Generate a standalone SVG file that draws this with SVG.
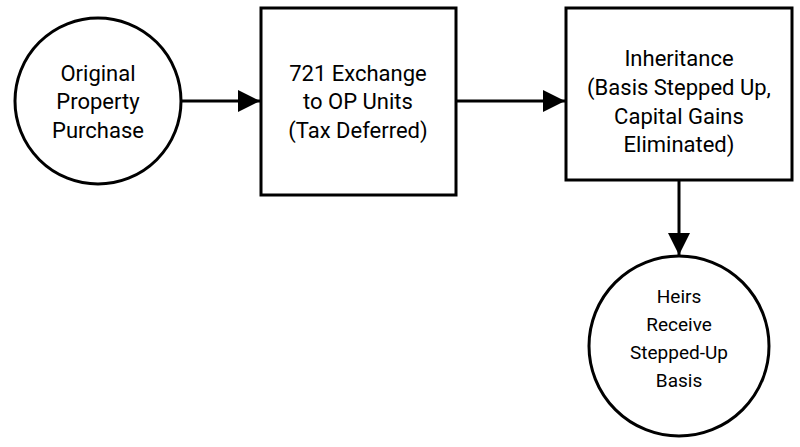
<svg xmlns="http://www.w3.org/2000/svg" width="800" height="447" viewBox="0 0 800 447">
<style>
.n{fill:#fff;stroke:#000;stroke-width:3}
.t{font-family:Roboto,"Liberation Sans",sans-serif;font-size:22px;text-anchor:middle;fill:#000}
.s{font-size:19px}
.c{stroke:#000;stroke-width:3;fill:none}
</style>
<defs>
<marker id="h" viewBox="0 0 10 10" refX="10" refY="5" markerWidth="22" markerHeight="22" markerUnits="userSpaceOnUse" orient="auto"><path d="M0,0L10,5L0,10z" fill="#000"/></marker></defs>
<rect width="800" height="447" fill="#fff"/>
<g id="edges">
<line class="c" x1="182" y1="101" x2="260" y2="101" marker-end="url(#h)"/>
<line class="c" x1="457" y1="101" x2="565" y2="101" marker-end="url(#h)"/>
<line class="c" x1="679" y1="181" x2="679" y2="255" marker-end="url(#h)"/>
</g>
<g id="n1"><circle class="n" cx="98" cy="101" r="83"/>
<text class="t" x="98" y="81">Original</text><text class="t" x="98" y="109">Property</text><text class="t" x="98" y="138">Purchase</text></g>
<g id="n2"><rect class="n" x="261" y="8" width="195" height="187"/>
<text class="t" x="358" y="81">721 Exchange</text><text class="t" x="358" y="109">to OP Units</text><text class="t" x="358" y="138">(Tax Deferred)</text></g>
<g id="n3"><rect class="n" x="566" y="8" width="226" height="172"/>
<text class="t" x="679" y="66">Inheritance</text><text class="t" x="679" y="95">(Basis Stepped Up,</text><text class="t" x="679" y="124">Capital Gains</text><text class="t" x="679" y="152">Eliminated)</text></g>
<g id="n4"><circle class="n" cx="679" cy="346" r="90"/>
<text class="t s" x="679" y="303">Heirs</text><text class="t s" x="679" y="331">Receive</text><text class="t s" x="679" y="359">Stepped-Up</text><text class="t s" x="679" y="387">Basis</text></g>
</svg>
